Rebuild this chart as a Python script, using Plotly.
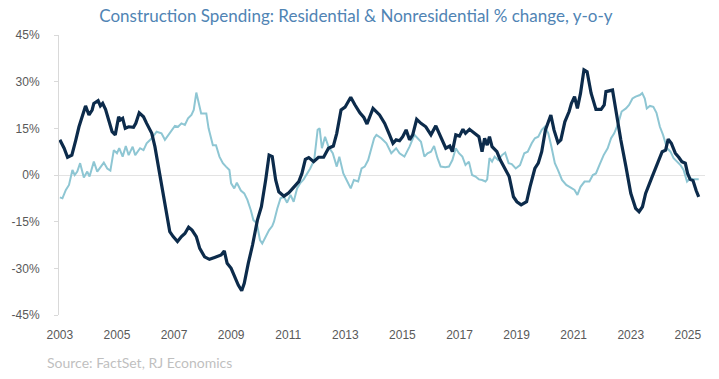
import plotly.graph_objects as go

# Residential construction spending, % change y-o-y (decimal year, value)
res_year = [2003.00, 2003.15, 2003.27, 2003.42, 2003.56, 2003.67, 2003.90, 2004.02, 2004.13, 2004.19,
            2004.34, 2004.42, 2004.50, 2004.60, 2004.71, 2004.83, 2004.94, 2005.06, 2005.12, 2005.20,
            2005.29, 2005.41, 2005.58, 2005.66, 2005.78, 2005.93, 2006.04, 2006.22, 2006.33, 2006.51,
            2006.68, 2006.85, 2006.97, 2007.12, 2007.26, 2007.38, 2007.51, 2007.63, 2007.78, 2007.90,
            2008.07, 2008.24, 2008.42, 2008.65, 2008.76, 2008.86, 2009.00, 2009.17, 2009.25, 2009.37,
            2009.46, 2009.60, 2009.75, 2009.92, 2010.06, 2010.21, 2010.33, 2010.44, 2010.56, 2010.67,
            2010.85, 2011.02, 2011.19, 2011.37, 2011.48, 2011.60, 2011.72, 2011.89, 2012.06, 2012.24,
            2012.41, 2012.58, 2012.70, 2012.85, 2012.99, 2013.19, 2013.34, 2013.51, 2013.65, 2013.76,
            2013.86, 2013.97, 2014.20, 2014.38, 2014.55, 2014.67, 2014.78, 2014.90, 2015.01, 2015.13,
            2015.25, 2015.36, 2015.50, 2015.65, 2015.82, 2016.00, 2016.17, 2016.35, 2016.52, 2016.66,
            2016.75, 2016.87, 2017.00, 2017.12, 2017.21, 2017.35, 2017.50, 2017.68, 2017.79, 2017.88,
            2017.97, 2018.05, 2018.14, 2018.31, 2018.43, 2018.60, 2018.74, 2018.89, 2019.01, 2019.16,
            2019.35, 2019.47, 2019.64, 2019.76, 2019.88, 2020.01, 2020.20, 2020.31, 2020.45, 2020.55,
            2020.69, 2020.84, 2020.92, 2021.03, 2021.13, 2021.24, 2021.36, 2021.47, 2021.61, 2021.78,
            2021.96, 2022.07, 2022.13, 2022.36, 2022.51, 2022.65, 2022.83, 2023.00, 2023.17, 2023.29,
            2023.41, 2023.52, 2023.75, 2023.93, 2024.10, 2024.22, 2024.31, 2024.42, 2024.56, 2024.68,
            2024.79, 2024.91, 2024.99, 2025.08, 2025.18, 2025.29, 2025.38]
res_val = [11.3, 8.6, 5.7, 6.4, 11.3, 15.5, 22.2, 19.3, 20.9, 23.0,
           23.9, 22.2, 23.0, 21.1, 17.7, 13.9, 12.9, 18.7, 17.7, 18.2,
           15.0, 15.5, 15.3, 16.6, 20.0, 18.7, 16.6, 13.4, 9.1, -0.5,
           -10.2, -18.2, -19.8, -21.4, -19.8, -18.8, -16.8, -17.7, -19.8, -23.6,
           -26.3, -27.1, -26.5, -25.7, -24.4, -28.4, -30.0, -33.8, -35.4, -37.2,
           -34.8, -28.4, -22.5, -14.5, -10.2, -1.6, 6.4, 5.9, -1.6, -5.4,
           -6.8, -5.7, -3.8, -2.1, 0.5, 5.0, 5.6, 4.3, 5.7, 5.7,
           8.6, 9.3, 13.4, 20.9, 21.8, 25.0, 22.5, 20.0, 18.5, 16.4,
           18.8, 21.4, 19.3, 16.6, 12.9, 10.2, 11.3, 11.0, 12.3, 14.5,
           11.3, 12.9, 17.9, 16.6, 15.5, 12.9, 15.8, 11.8, 8.6, 9.3,
           7.5, 12.9, 12.5, 14.7, 13.4, 14.7, 13.6, 12.3, 7.5, 11.8,
           9.6, 12.3, 9.1, 7.5, 4.8, 1.8, -0.5, -7.0, -8.6, -9.6,
           -8.6, -3.8, 2.1, 3.8, 7.5, 14.5, 19.3, 14.5, 10.4, 11.3,
           17.1, 20.4, 23.0, 25.2, 21.4, 26.3, 33.8, 33.2, 26.3, 21.1,
           21.1, 22.5, 26.8, 27.3, 18.8, 11.3, 2.7, -5.9, -10.7, -11.8,
           -10.2, -5.9, -0.5, 3.8, 7.5, 8.0, 11.5, 10.2, 7.0, 5.7,
           4.3, 3.8, 0.5, -1.4, -1.8, -5.0, -7.0]

# Nonresidential construction spending, % change y-o-y (decimal year, value)
nonres_year = [2003.00, 2003.09, 2003.21, 2003.32, 2003.44, 2003.52, 2003.61, 2003.71, 2003.84, 2003.96,
               2004.04, 2004.19, 2004.31, 2004.42, 2004.54, 2004.66, 2004.77, 2004.89, 2005.00, 2005.08,
               2005.20, 2005.31, 2005.41, 2005.55, 2005.64, 2005.81, 2005.93, 2006.04, 2006.22, 2006.39,
               2006.56, 2006.68, 2006.85, 2007.03, 2007.14, 2007.26, 2007.38, 2007.49, 2007.61, 2007.69,
               2007.78, 2007.86, 2007.95, 2008.13, 2008.21, 2008.36, 2008.47, 2008.59, 2008.71, 2008.82,
               2008.94, 2009.00, 2009.11, 2009.20, 2009.34, 2009.46, 2009.57, 2009.69, 2009.78, 2009.90,
               2010.01, 2010.09, 2010.21, 2010.33, 2010.44, 2010.50, 2010.62, 2010.73, 2010.85, 2010.96,
               2011.08, 2011.19, 2011.31, 2011.43, 2011.54, 2011.66, 2011.77, 2011.91, 2012.03, 2012.10,
               2012.18, 2012.29, 2012.41, 2012.56, 2012.70, 2012.79, 2012.93, 2013.07, 2013.19, 2013.30,
               2013.45, 2013.57, 2013.68, 2013.80, 2013.91, 2014.01, 2014.09, 2014.26, 2014.44, 2014.61,
               2014.78, 2014.90, 2015.07, 2015.25, 2015.42, 2015.53, 2015.65, 2015.77, 2015.88, 2016.00,
               2016.11, 2016.23, 2016.34, 2016.50, 2016.63, 2016.75, 2016.87, 2016.98, 2017.10, 2017.21,
               2017.33, 2017.44, 2017.56, 2017.68, 2017.79, 2017.91, 2017.97, 2018.05, 2018.14, 2018.23,
               2018.35, 2018.49, 2018.60, 2018.72, 2018.83, 2018.97, 2019.12, 2019.27, 2019.39, 2019.53,
               2019.64, 2019.76, 2019.88, 2019.99, 2020.11, 2020.22, 2020.34, 2020.45, 2020.59, 2020.74,
               2020.92, 2021.03, 2021.13, 2021.24, 2021.38, 2021.55, 2021.67, 2021.78, 2021.90, 2022.05,
               2022.19, 2022.31, 2022.42, 2022.56, 2022.68, 2022.83, 2022.94, 2023.06, 2023.17, 2023.32,
               2023.40, 2023.49, 2023.56, 2023.67, 2023.79, 2023.90, 2024.02, 2024.13, 2024.27, 2024.39,
               2024.50, 2024.62, 2024.74, 2024.85, 2024.97, 2025.08, 2025.20, 2025.38]
nonres_val = [-7.2, -7.5, -4.8, -3.2, 1.6, 0.0, 1.1, 3.8, -0.8, 1.1,
              -0.5, 4.3, 1.1, 2.7, 4.0, 2.1, 1.4, 8.0, 7.0, 8.6,
              5.9, 9.3, 6.4, 9.1, 6.4, 8.6, 8.0, 10.2, 11.8, 13.9,
              13.4, 11.3, 13.4, 15.8, 15.5, 16.6, 16.1, 18.2, 19.3, 20.9,
              26.5, 23.6, 19.8, 19.8, 15.0, 9.6, 9.6, 5.9, 3.8, 2.7,
              1.6, -2.7, -4.3, -2.5, -5.0, -5.9, -8.0, -11.3, -14.5, -15.5,
              -20.9, -22.0, -19.8, -17.7, -16.4, -15.0, -10.7, -7.5, -7.0, -8.9,
              -6.4, -8.6, -4.3, -2.5, -1.4, 0.3, 2.1, 4.8, 14.5, 15.0,
              8.6, 12.3, 9.1, 7.0, 2.7, 5.9, 0.5, -2.1, -4.3, -1.6,
              -2.1, 2.1, 2.7, 4.8, 8.6, 11.8, 12.9, 11.8, 10.2, 7.0,
              8.6, 7.0, 5.9, 9.1, 12.9, 11.8, 10.7, 5.9, 7.0, 7.5,
              9.3, 5.4, 2.7, 2.5, 2.7, 4.8, 8.6, 7.0, 5.9, 3.2,
              4.3, 0.0, -0.5, -1.4, -1.6, -2.1, -1.4, 5.4, 4.3, 5.9,
              4.8, 6.4, 7.2, 3.8, 3.5, 2.1, 3.2, 7.0, 7.5, 10.2,
              11.8, 12.3, 14.5, 15.5, 13.4, 9.1, 3.8, 1.6, -1.6, -3.2,
              -4.3, -4.8, -6.4, -3.8, -2.1, -2.1, 0.0, 0.5, 3.2, 6.4,
              8.6, 11.8, 13.4, 16.6, 20.4, 21.4, 22.5, 24.6, 25.2, 25.7,
              26.3, 24.6, 21.4, 22.2, 21.9, 20.0, 15.5, 12.9, 8.6, 7.5,
              5.4, 4.3, 3.2, 1.6, -2.1, -1.1, -1.4, -1.4]

y_ticks = [-45, -30, -15, 0, 15, 30, 45]
y_tick_text = ["-45%", "-30%", "-15%", "0%", "15%", "30%", "45%"]
x_ticks = [2003, 2005, 2007, 2009, 2011, 2013, 2015, 2017, 2019, 2021, 2023, 2025]
x_tick_text = [str(v) for v in x_ticks]

title_text = "Construction Spending: Residential &amp; Nonresidential % change, y-o-y"
source_text = "Source: FactSet, RJ Economics"

fig = go.Figure()
fig.add_trace(go.Scatter(x=nonres_year, y=nonres_val, mode="lines", name="Nonresidential",
                         line=dict(color="#8ec6d3", width=2)))
fig.add_trace(go.Scatter(x=res_year, y=res_val, mode="lines", name="Residential",
                         line=dict(color="#0c2b4b", width=3.2)))

fig.update_layout(
    width=719, height=379,
    margin=dict(l=53, r=14, t=35, b=64),
    paper_bgcolor="white", plot_bgcolor="white",
    showlegend=False,
    font=dict(family="Liberation Sans, Arial, sans-serif", size=12, color="#595959"),
    title=dict(text=title_text, x=0.495, xanchor="center", y=0.958, yanchor="middle",
               font=dict(family="Lato, sans-serif", size=17, color="#5084b4")),
    xaxis=dict(range=[2002.97, 2025.6], tickvals=x_ticks, ticktext=x_tick_text,
               showgrid=False, zeroline=False, showline=False, ticks="",
               ticklabelstandoff=11, tickfont=dict(size=12, color="#595959")),
    yaxis=dict(range=[-45, 45], tickvals=y_ticks, ticktext=y_tick_text,
               showgrid=False, zeroline=True, zerolinecolor="#e3e3e3", zerolinewidth=1,
               showline=True, linecolor="#d9d9d9", linewidth=1,
               ticks="outside", ticklen=4, tickcolor="#d9d9d9",
               ticklabelstandoff=12, tickfont=dict(size=12, color="#595959")),
)
fig.add_annotation(text=source_text, xref="paper", yref="paper", x=-0.022, y=-0.168,
                   xanchor="left", yanchor="middle", showarrow=False,
                   font=dict(family="Lato, sans-serif", size=14, color="#bfbfbf"))

fig.write_html("out.html", config={"displayModeBar": False},
               post_script="document.body.style.margin='0';")
